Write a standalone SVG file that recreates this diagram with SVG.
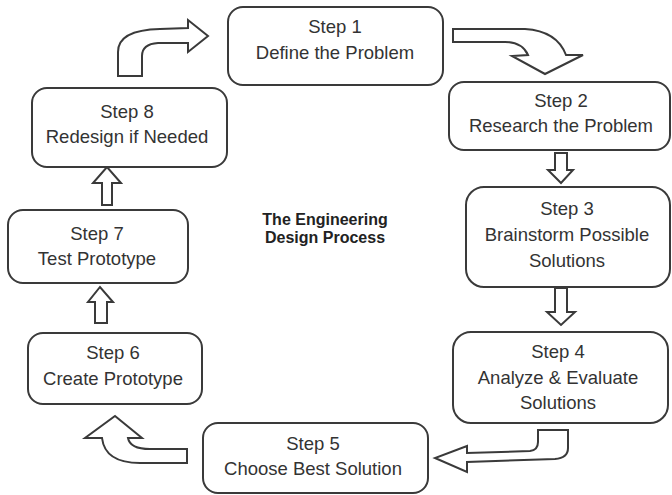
<svg xmlns="http://www.w3.org/2000/svg" width="672" height="495" viewBox="0 0 672 495">
<style>
.box{fill:#fff;stroke:#3a3a3a;stroke-width:2}
.arr{fill:#fff;stroke:#3a3a3a;stroke-width:2;stroke-linejoin:miter}
.t{font-family:"Liberation Sans",Arial,sans-serif;font-size:18.5px;fill:#333;text-anchor:middle}
.title{font-family:"Liberation Sans",Arial,sans-serif;font-size:16px;font-weight:bold;fill:#222;text-anchor:middle}
</style>
<rect width="672" height="495" fill="#fff"/>
<g id="connectors">
<path class="arr" d="M118,76 L118,52 Q118,30 160,29 L188,28 L188,20 L208,36 L188,52 L188,43 L158,43 Q142,44 142,56 L142,76 Z"/>
<path class="arr" d="M453,29 L525,29 Q557,31 566,55 L583,55 L545,74 L512,56 L528,55 Q522,42 505,42 L453,42 Z"/>
<path class="arr" d="M555,153 L567,153 L567,170 L573,170 L561,183 L548,170 L555,170 Z"/>
<path class="arr" d="M555,288 L567,288 L567,312 L575,312 L561,325 L547,312 L555,312 Z"/>
<path class="arr" d="M538,430 L568,430 L568,448 Q568,458 555,459 L467,462 L467,472 L435,458 L467,446 L467,453 L530,451 Q538,450 538,442 Z"/>
<path class="arr" d="M115,416 L142,438 L128,438 Q130,449 150,449 L187,449 L187,463 L140,463 Q105,463 102,438 L85,438 Z"/>
<path class="arr" d="M95,323 L107,323 L107,302 L113,302 L100,287 L88,302 L95,302 Z"/>
<path class="arr" d="M102,205 L112,205 L112,183 L121,183 L107,167 L93,183 L102,183 Z"/>
</g>
<g id="step1"><rect class="box" x="228" y="7" width="215" height="78" rx="15"/><text class="t" x="335" y="33">Step 1</text><text class="t" x="335" y="59">Define the Problem</text></g>
<g id="step2"><rect class="box" x="449" y="82" width="221" height="68" rx="15"/><text class="t" x="561" y="107">Step 2</text><text class="t" x="561" y="132">Research the Problem</text></g>
<g id="step3"><rect class="box" x="466" y="187" width="204" height="100" rx="18"/><text class="t" x="567" y="215">Step 3</text><text class="t" x="567" y="241">Brainstorm Possible</text><text class="t" x="567" y="267">Solutions</text></g>
<g id="step4"><rect class="box" x="453" y="332" width="215" height="91" rx="18"/><text class="t" x="558" y="358">Step 4</text><text class="t" x="558" y="384">Analyze &amp; Evaluate</text><text class="t" x="558" y="409">Solutions</text></g>
<g id="step5"><rect class="box" x="203" y="423" width="225" height="70" rx="15"/><text class="t" x="313" y="450">Step 5</text><text class="t" x="313" y="475">Choose Best Solution</text></g>
<g id="step6"><rect class="box" x="28" y="333" width="174" height="71" rx="15"/><text class="t" x="113" y="359">Step 6</text><text class="t" x="113" y="385">Create Prototype</text></g>
<g id="step7"><rect class="box" x="8" y="210" width="180" height="73" rx="15"/><text class="t" x="97" y="240">Step 7</text><text class="t" x="97" y="265">Test Prototype</text></g>
<g id="step8"><rect class="box" x="32" y="88" width="195" height="79" rx="15"/><text class="t" x="127" y="118">Step 8</text><text class="t" x="127" y="143">Redesign if Needed</text></g>
<g id="title"><text class="title" x="325" y="225">The Engineering</text><text class="title" x="325" y="243">Design Process</text></g>
</svg>
